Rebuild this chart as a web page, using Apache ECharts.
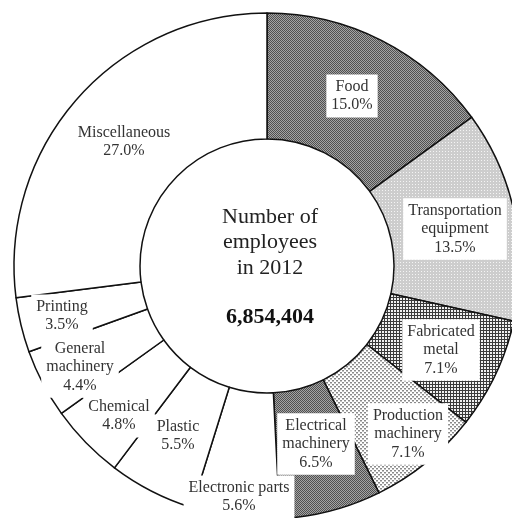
<!DOCTYPE html>
<html>
<head>
<meta charset="utf-8">
<script src="https://cdn.jsdelivr.net/npm/echarts@6/dist/echarts.min.js"></script>
<style>
  html, body { margin: 0; padding: 0; background: #fff; }
  #chart { width: 512px; height: 518px; }
</style>
</head>
<body>
<div id="chart"></div>
<script>
// industries, clockwise from 12 o'clock
let categories = ["Food", "Transportation\nequipment", "Fabricated\nmetal", "Production\nmachinery",
    "Electrical\nmachinery", "Electronic parts", "Plastic", "Chemical", "General\nmachinery",
    "Printing", "Miscellaneous"];
let shares = [15.0, 13.5, 7.1, 7.1, 6.5, 5.6, 5.5, 4.8, 4.4, 3.5, 27.0];
let totalLabel = "6,854,404";
let centerLines = ["Number of", "employees", "in 2012"];

// where each label sits (pixel centres)
let labelPos = [[352, 96], [455, 229], [441, 350], [408, 434], [316, 444], [239, 497],
    [178, 436], [119, 416], [80, 367], [62, 316], [124, 142]];

function makePattern(size, bg, draw) {
    let c = document.createElement("canvas");
    c.width = size; c.height = size;
    let ctx = c.getContext("2d");
    ctx.fillStyle = bg;
    ctx.fillRect(0, 0, size, size);
    draw(ctx);
    return { image: c, repeat: "repeat" };
}

let darkDots = makePattern(2, "#a4a4a4", ctx => {
    ctx.fillStyle = "#505050";
    ctx.fillRect(0, 0, 1, 1);
    ctx.fillRect(1, 1, 1, 1);
});
let lightDots = makePattern(3, "#cdcdcd", ctx => {
    ctx.fillStyle = "#f4f4f4";
    ctx.fillRect(1, 1, 1, 1);
});
let grid = makePattern(3, "#f0f0f0", ctx => {
    ctx.fillStyle = "#3a3a3a";
    ctx.fillRect(0, 0, 3, 1);
    ctx.fillRect(0, 0, 1, 3);
});
let speckle = makePattern(4, "#ffffff", ctx => {
    ctx.fillStyle = "#8a8a8a";
    ctx.fillRect(0, 0, 2, 1);
    ctx.fillRect(2, 2, 2, 1);
    ctx.fillStyle = "#c4c4c4";
    ctx.fillRect(0, 1, 2, 1);
    ctx.fillRect(2, 3, 2, 1);
});
let fills = [darkDots, lightDots, grid, speckle, darkDots,
    "#fff", "#fff", "#fff", "#fff", "#fff", "#fff"];

let chart = echarts.init(document.getElementById("chart"), null, { renderer: "canvas" });
let serif = '"Liberation Serif", "Times New Roman", serif';

let option = {
    animation: false,
    graphic: centerLines.map((t, i) => ({
        type: "text",
        x: 270, y: 217 + i * 25.5,
        style: {
            text: t, align: "center", verticalAlign: "middle",
            textAlign: "center", textVerticalAlign: "middle",
            font: '22px ' + serif, fill: "#222"
        }
    })).concat([{
        type: "text",
        x: 270, y: 317,
        style: {
            text: totalLabel, align: "center", verticalAlign: "middle",
            textAlign: "center", textVerticalAlign: "middle",
            font: 'bold 22px ' + serif, fill: "#111"
        }
    }]),
    series: [{
        type: "pie",
        center: [267, 266],
        radius: [127, 253],
        startAngle: 90,
        clockwise: true,
        avoidLabelOverlap: false,
        emphasis: { disabled: true },
        itemStyle: { borderColor: "#111", borderWidth: 1.5 },
        label: {
            show: true,
            position: "inside",
            formatter: p => p.name + "\n" + p.value.toFixed(1) + "%",
            fontFamily: serif,
            fontSize: 16,
            lineHeight: 18.5,
            color: "#333",
            backgroundColor: "#fff",
            padding: [3, 5]
        },
        labelLine: { show: false },
        labelLayout: params => {
            let p = labelPos[params.dataIndex];
            return { x: p[0], y: p[1], align: "center", verticalAlign: "middle" };
        },
        data: categories.map((name, i) => ({
            name: name,
            value: shares[i],
            itemStyle: { color: fills[i] }
        }))
    }]
};
chart.setOption(option);
</script>
</body>
</html>
